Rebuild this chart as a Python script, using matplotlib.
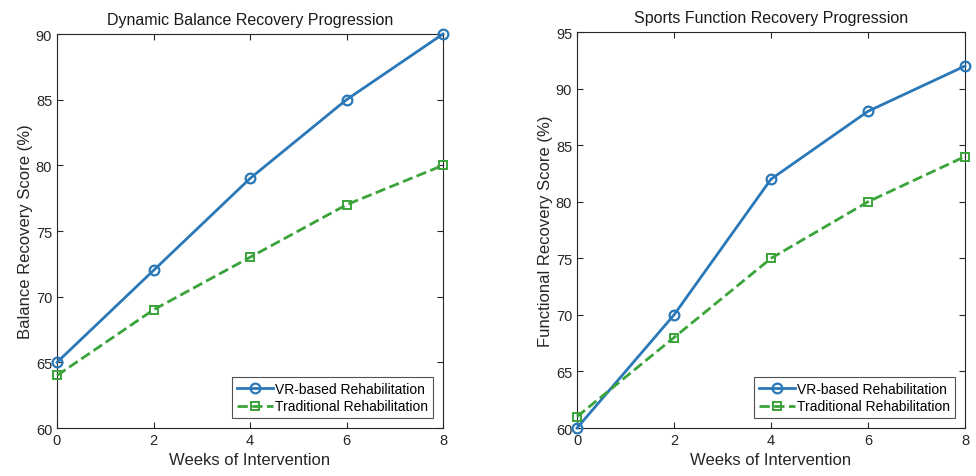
import numpy as np
import matplotlib.pyplot as plt

plt.rcParams['font.family'] = ['Liberation Sans', 'DejaVu Sans']

weeks = [0, 2, 4, 6, 8]
balance_vr = [65, 72, 79, 85, 90]
balance_trad = [64, 69, 73, 77, 80]
function_vr = [60, 70, 82, 88, 92]
function_trad = [61, 68, 75, 80, 84]

blue = '#2a78b8'
green = '#3aa33a'
axis_col = '#262626'

fig = plt.figure(figsize=(9.76, 4.77), dpi=100)
ax1 = fig.add_axes([0.0584, 0.1006, 0.3955, 0.826])
ax2 = fig.add_axes([0.5912, 0.1006, 0.3975, 0.830])


def style(ax, vr, trad, title, ylabel, ylim, yticks):
    ax.plot(weeks, vr, '-o', color=blue, lw=2, ms=7, mfc='none', mew=1.6,
            label='VR-based Rehabilitation', clip_on=False, zorder=3)
    ax.plot(weeks, trad, '--s', color=green, lw=2, ms=5.5, mfc='none', mew=1.4,
            label='Traditional Rehabilitation', clip_on=False, zorder=3)
    ax.set_xlim(0, 8)
    ax.set_ylim(*ylim)
    ax.set_xticks(weeks)
    ax.set_yticks(yticks)
    ax.tick_params(direction='in', top=True, right=True, labelsize=10.5,
                   colors=axis_col, length=4)
    for s in ax.spines.values():
        s.set_color(axis_col)
        s.set_linewidth(0.8)
    ax.set_title(title, fontsize=11.5, color='#1a1a1a', pad=7)
    ax.set_xlabel('Weeks of Intervention', fontsize=12, color=axis_col)
    ax.set_ylabel(ylabel, fontsize=12, color=axis_col, labelpad=2)
    leg = ax.legend(loc='lower right', fontsize=10, fancybox=False,
                    edgecolor=axis_col, handlelength=2.6, borderpad=0.35,
                    labelspacing=0.25, handletextpad=0.15, borderaxespad=0.7)
    leg.get_frame().set_linewidth(0.8)


style(ax1, balance_vr, balance_trad, 'Dynamic Balance Recovery Progression',
      'Balance Recovery Score (%)', (60, 90), np.arange(60, 91, 5))
style(ax2, function_vr, function_trad, 'Sports Function Recovery Progression',
      'Functional Recovery Score (%)', (60, 95), np.arange(60, 96, 5))

fig.savefig('out.png', dpi=100)
